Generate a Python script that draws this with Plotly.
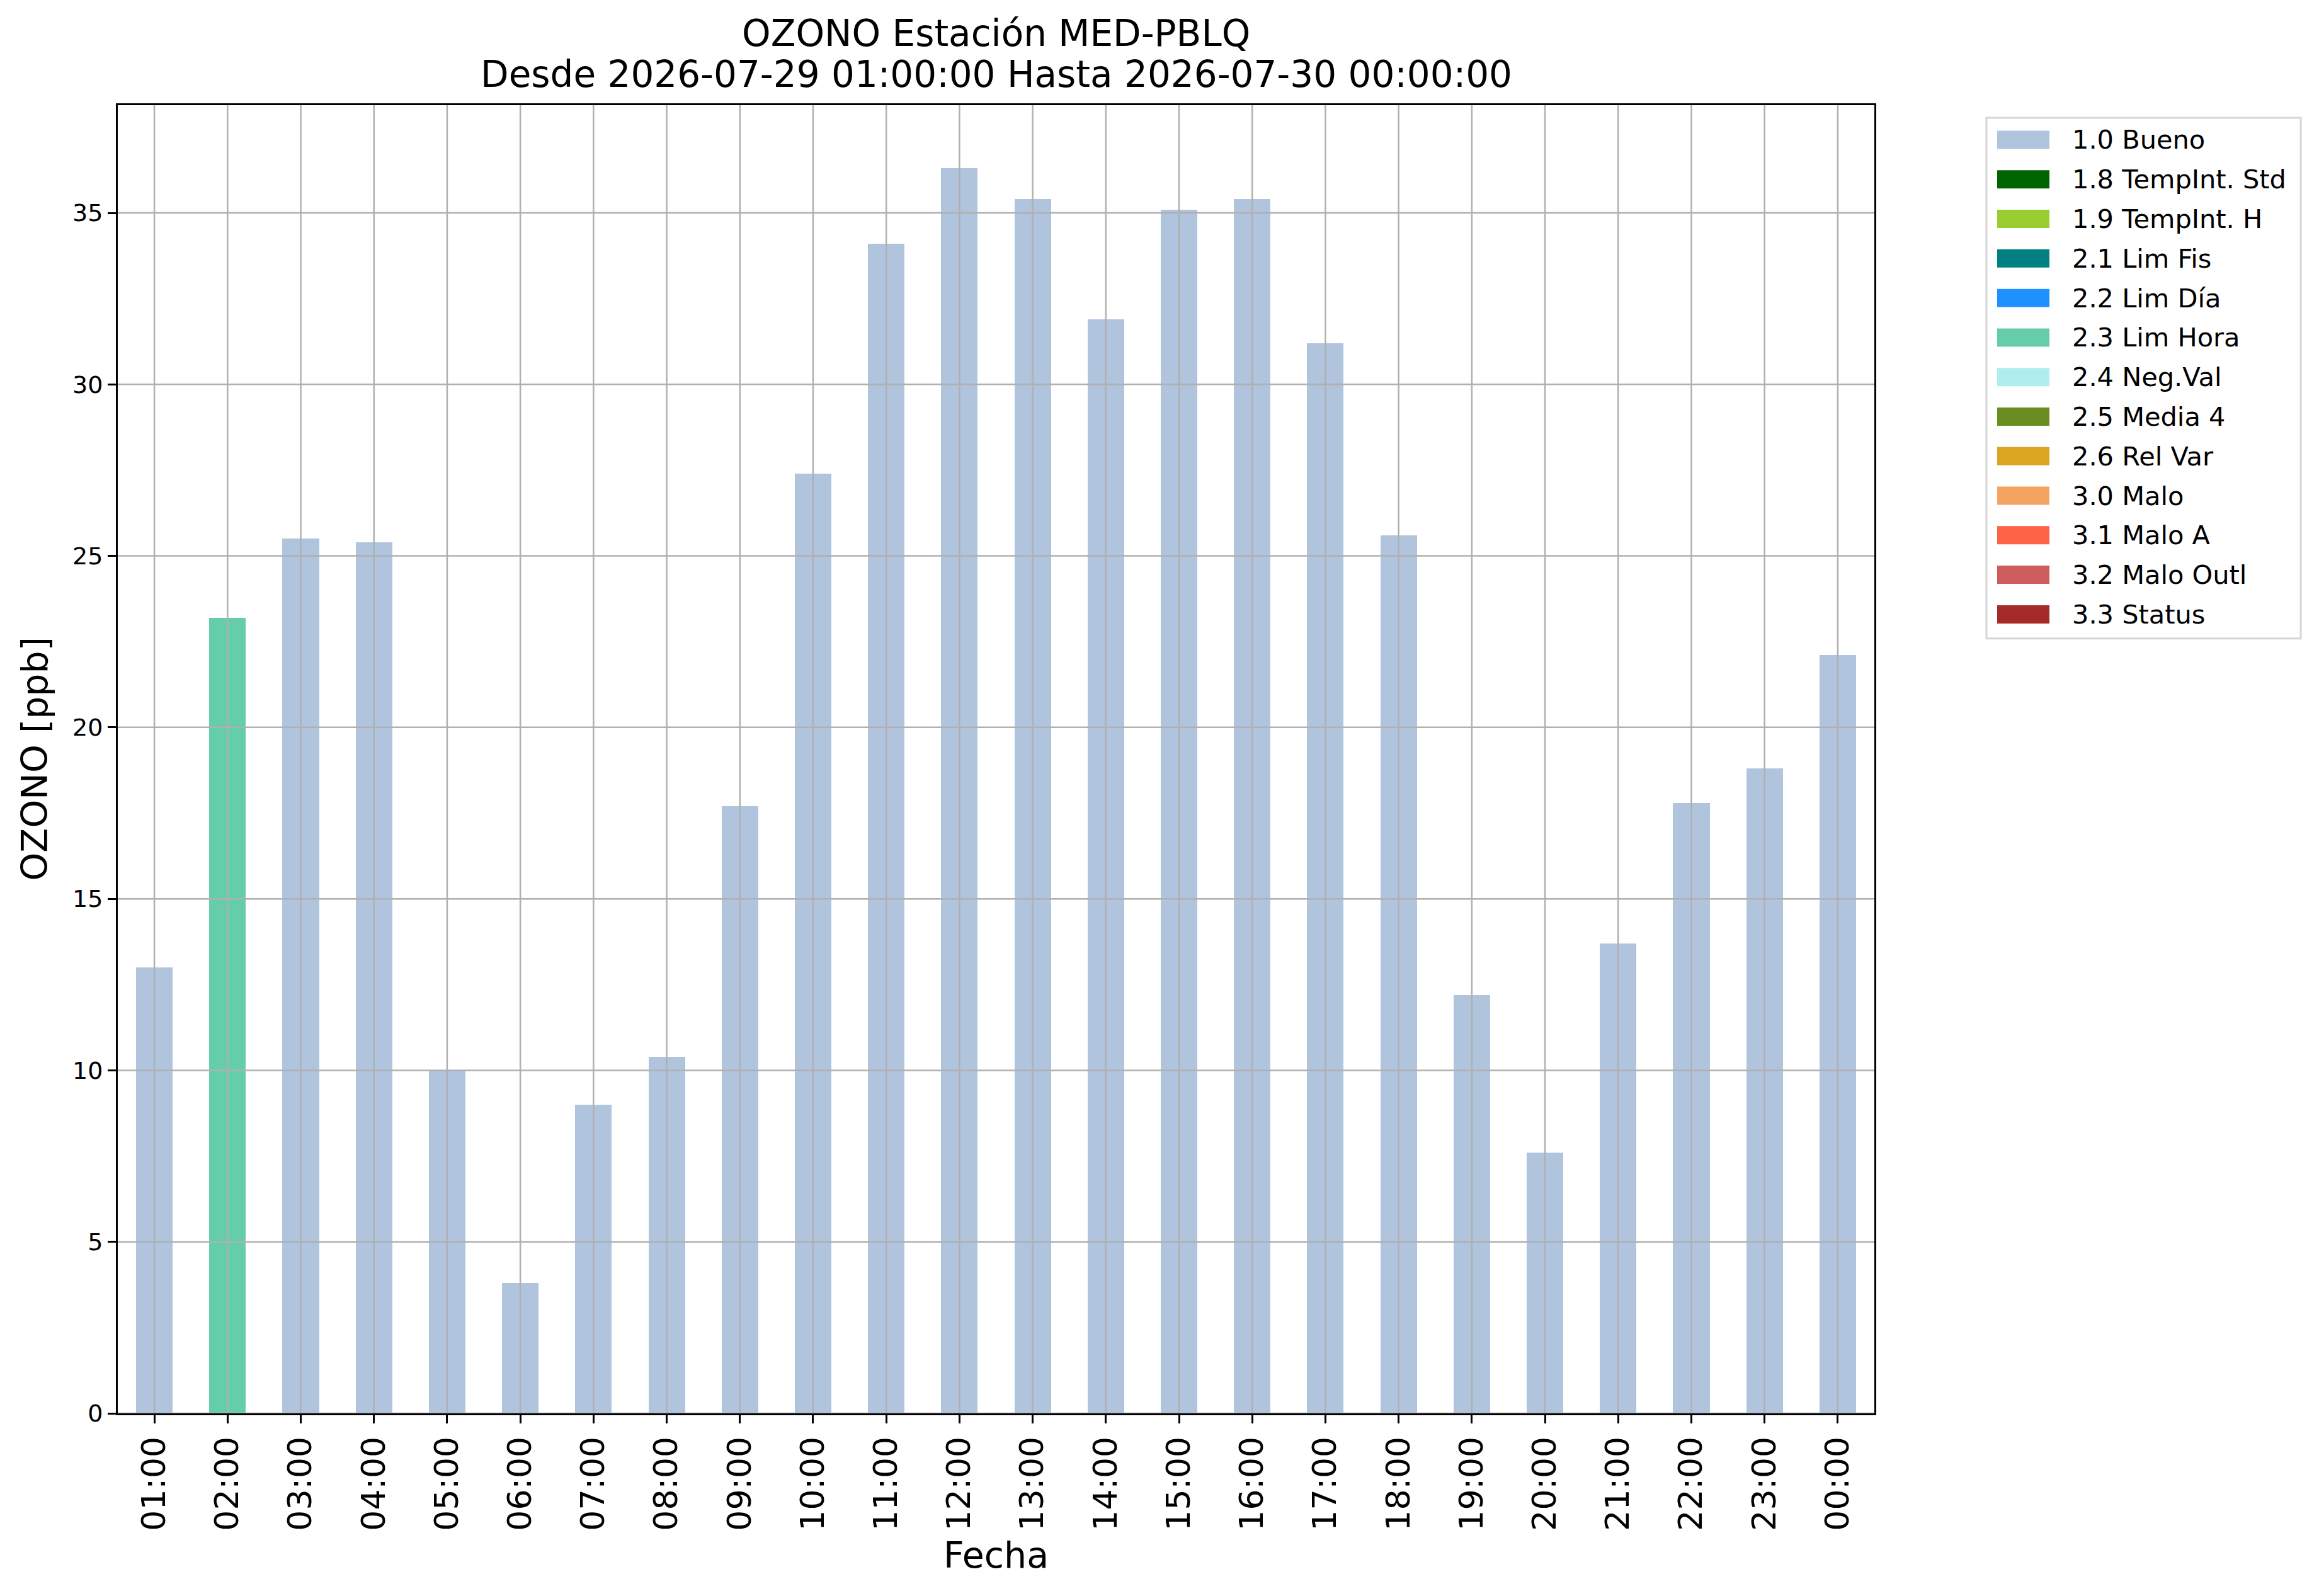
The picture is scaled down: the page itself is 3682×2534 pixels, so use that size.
import plotly.graph_objects as go

# datos
horas = ["01:00", "02:00", "03:00", "04:00", "05:00", "06:00", "07:00", "08:00",
         "09:00", "10:00", "11:00", "12:00", "13:00", "14:00", "15:00", "16:00",
         "17:00", "18:00", "19:00", "20:00", "21:00", "22:00", "23:00", "00:00"]
ozono = [13.0, 23.2, 25.5, 25.4, 10.0, 3.8, 9.0, 10.4, 17.7, 27.4, 34.1, 36.3,
         35.4, 31.9, 35.1, 35.4, 31.2, 25.6, 12.2, 7.6, 13.7, 17.8, 18.8, 22.1]
banderas = ["1.0 Bueno", "2.3 Lim Hora"] + ["1.0 Bueno"] * 22

etiquetas = ["1.0 Bueno", "1.8 TempInt. Std", "1.9 TempInt. H", "2.1 Lim Fis",
             "2.2 Lim Día", "2.3 Lim Hora", "2.4 Neg.Val", "2.5 Media 4",
             "2.6 Rel Var", "3.0 Malo", "3.1 Malo A", "3.2 Malo Outl", "3.3 Status"]
colores = ["#B0C4DE", "#006400", "#9ACD32", "#008080", "#1E90FF", "#66CDAA",
           "#AFEEEE", "#6B8E23", "#DAA520", "#F4A460", "#FF6347", "#CD5C5C", "#A52A2A"]
yticks = [0, 5, 10, 15, 20, 25, 30, 35]

# la pagina html deja 8px de margen en el body
OFF = 8
W, H = 3682 - 2 * OFF, 2534 - 2 * OFF
L, T = 187 - OFF, 167 - OFF
R, B = W - (2976 - OFF), H - (2244.5 - OFF)
FONT = "DejaVu Sans"


def px_x(p):
    return (p - OFF - L) / (W - L - R)


def px_y(p):
    return 1 - (p - OFF - T) / (H - T - B)


color_de = dict(zip(etiquetas, colores))

fig = go.Figure()
fig.add_trace(go.Bar(x=horas, y=ozono, width=0.5,
                     marker=dict(color=[color_de[b] for b in banderas], line=dict(width=0)),
                     showlegend=False))

shapes = []
# rejilla encima de las barras, como en matplotlib
for v in yticks:
    shapes.append(dict(type="line", xref="paper", yref="y", x0=0, x1=1, y0=v, y1=v,
                       line=dict(color="#b0b0b0", width=2.5), layer="above"))
for h in horas:
    shapes.append(dict(type="line", xref="x", yref="paper", x0=h, x1=h, y0=0, y1=1,
                       line=dict(color="#b0b0b0", width=2.5), layer="above"))

# leyenda dibujada a mano
shapes.append(dict(type="rect", xref="paper", yref="paper",
                   x0=px_x(3154), x1=px_x(3653), y0=px_y(1014), y1=px_y(187),
                   line=dict(color="#d6d6d6", width=3), fillcolor="white", layer="above"))
annotations = []
for i, (lab, col) in enumerate(zip(etiquetas, colores)):
    yc = 222 + i * 62.8
    shapes.append(dict(type="rect", xref="paper", yref="paper",
                       x0=px_x(3171), x1=px_x(3254), y0=px_y(yc + 14.5), y1=px_y(yc - 14.5),
                       line=dict(width=0), fillcolor=col, layer="above"))
    annotations.append(dict(xref="paper", yref="paper", x=px_x(3288), y=px_y(yc),
                            xanchor="left", yanchor="middle", showarrow=False, text=lab,
                            font=dict(family=FONT, size=41.5, color="black")))

annotations += [
    dict(xref="paper", yref="paper", x=0.5, y=px_y(53), xanchor="center", yanchor="middle",
         showarrow=False, text="OZONO Estación MED-PBLQ",
         font=dict(family=FONT, size=58, color="black")),
    dict(xref="paper", yref="paper", x=0.5, y=px_y(118), xanchor="center", yanchor="middle",
         showarrow=False, text="Desde 2026-07-29 01:00:00 Hasta 2026-07-30 00:00:00",
         font=dict(family=FONT, size=58, color="black")),
    dict(xref="paper", yref="paper", x=0.5, y=px_y(2470), xanchor="center", yanchor="middle",
         showarrow=False, text="Fecha", font=dict(family=FONT, size=57, color="black")),
    dict(xref="paper", yref="paper", x=px_x(54), y=0.5, xanchor="center", yanchor="middle",
         showarrow=False, text="OZONO [ppb]", textangle=-90,
         font=dict(family=FONT, size=57, color="black")),
]

fig.update_layout(
    width=W, height=H,
    margin=dict(l=L, r=R, t=T, b=B, autoexpand=False),
    paper_bgcolor="white", plot_bgcolor="white",
    font=dict(family=FONT, color="black"),
    shapes=shapes, annotations=annotations,
    showlegend=False, bargap=0,
)
fig.update_xaxes(type="category", range=[-0.5, 23.5], showgrid=False, tickangle=-90,
                 tickfont=dict(size=52), ticks="outside", ticklen=13, tickwidth=2.5,
                 tickcolor="black", showline=True, linecolor="black", linewidth=3,
                 mirror=True, automargin=False)
fig.update_yaxes(range=[0, 38.14], tickvals=yticks, showgrid=False, zeroline=False,
                 tickfont=dict(size=38), ticks="outside", ticklen=13, tickwidth=2.5,
                 tickcolor="black", showline=True, linecolor="black", linewidth=3,
                 mirror=True, automargin=False)

fig.write_html("out.html")
